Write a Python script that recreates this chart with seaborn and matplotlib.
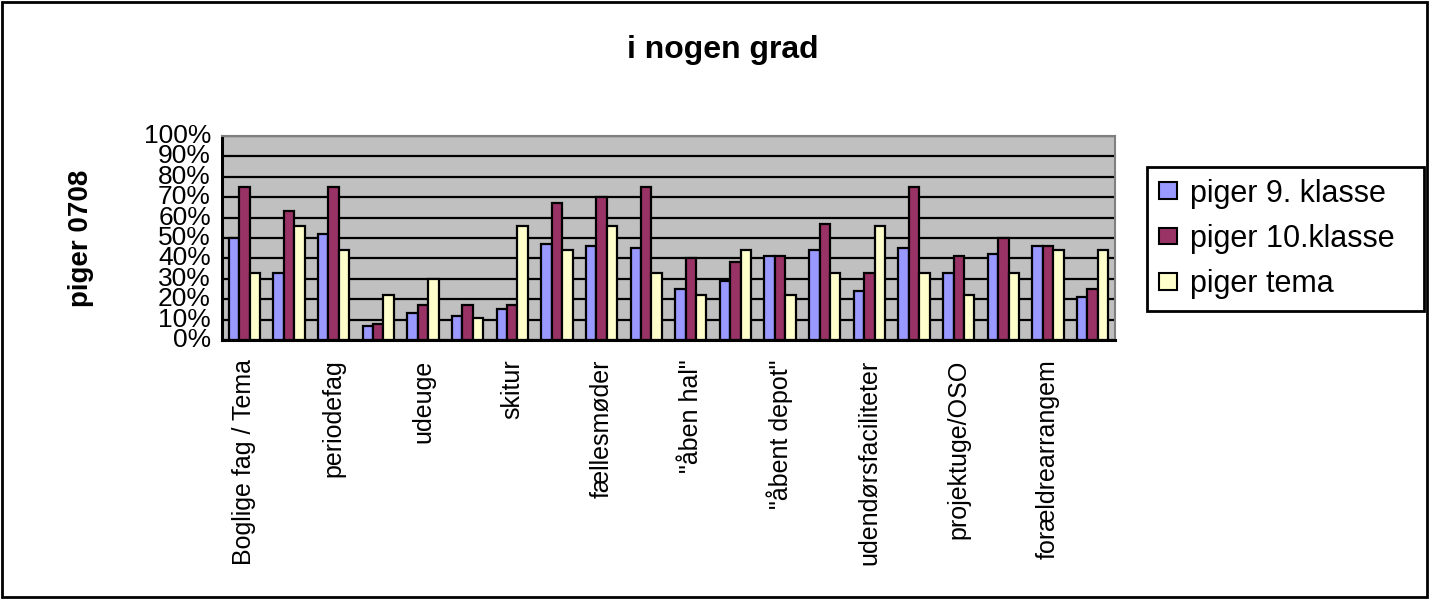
import matplotlib
matplotlib.use("Agg")
import matplotlib.pyplot as plt
import matplotlib.ticker as mticker
from matplotlib.patches import Rectangle
import seaborn as sns
import pandas as pd
import numpy as np

# ---------------- data ----------------
categories = [
    "Boglige fag / Tema", "kat 2", "periodefag", "kat 4", "udeuge", "kat 6",
    "skitur", "kat 8", "fællesmøder", "kat 10", "\"åben hal\"", "kat 12",
    "\"åbent depot\"", "kat 14", "udendørsfaciliteter", "kat 16",
    "projektuge/OSO", "kat 18", "forældrearrangem", "kat 20",
]
tick_labels = [
    "Boglige fag / Tema", "periodefag", "udeuge", "skitur", "fællesmøder",
    "\"åben hal\"", "\"åbent depot\"", "udendørsfaciliteter",
    "projektuge/OSO", "forældrearrangem",
]
series_names = ["piger 9. klasse", "piger 10.klasse", "piger tema"]
piger_9 = [0.50, 0.33, 0.52, 0.07, 0.13, 0.12, 0.15, 0.47, 0.46, 0.45,
           0.25, 0.29, 0.41, 0.44, 0.24, 0.45, 0.33, 0.42, 0.46, 0.21]
piger_10 = [0.75, 0.63, 0.75, 0.08, 0.17, 0.17, 0.17, 0.67, 0.70, 0.75,
            0.40, 0.38, 0.41, 0.57, 0.33, 0.75, 0.41, 0.50, 0.46, 0.25]
piger_tema = [0.33, 0.56, 0.44, 0.22, 0.30, 0.11, 0.56, 0.44, 0.56, 0.33,
              0.22, 0.44, 0.22, 0.33, 0.56, 0.33, 0.22, 0.33, 0.44, 0.44]
title = "i nogen grad"
ylabel = "piger 0708"

colors = ["#9999FF", "#993366", "#FFFFCC"]

df = pd.DataFrame({
    "kategori": categories * 3,
    "serie": sum([[s] * len(categories) for s in series_names], []),
    "andel": piger_9 + piger_10 + piger_tema,
})

# ---------------- figure ----------------
sns.set_style("white")
plt.rcParams["font.family"] = ["Liberation Sans", "DejaVu Sans"]
plt.rcParams["text.color"] = "black"
plt.rcParams["axes.labelcolor"] = "black"
plt.rcParams["xtick.color"] = "black"
plt.rcParams["ytick.color"] = "black"

W, H = 1429, 599
fig = plt.figure(figsize=(W / 100, H / 100), dpi=100)
fig.patch.set_facecolor("white")

left, right, top, bottom = 222, 1115, 136, 340
ax = fig.add_axes([left / W, 1 - bottom / H, (right - left) / W, (bottom - top) / H])
ax.set_facecolor("#C0C0C0")

sns.barplot(data=df, x="kategori", y="andel", hue="serie", order=categories,
            hue_order=series_names, palette=colors, width=0.7,
            edgecolor="black", linewidth=1.6, saturation=1, ax=ax)

ax.set_ylim(0, 1)
ax.set_xlim(-0.5, len(categories) - 0.5)
ax.yaxis.set_major_locator(mticker.MultipleLocator(0.1))
ax.yaxis.set_major_formatter(mticker.PercentFormatter(1.0, decimals=0))
ax.grid(axis="y", color="black", linewidth=1.6)
ax.set_axisbelow(True)

# x ticks: labels on every other category, tick marks at boundaries
ax.set_xticks(np.arange(0, len(categories), 2))
ax.set_xticklabels(tick_labels, rotation=90, fontsize=18, color="black")
ax.tick_params(axis="x", which="major", length=0, pad=14)
ax.set_xticks(np.arange(-0.5, len(categories), 1), minor=True)
ax.tick_params(axis="x", which="minor", length=7, width=2, color="black",
               direction="out")
ax.tick_params(axis="y", which="major", length=12, width=2, color="black",
               labelcolor="black", direction="inout", labelsize=19, pad=2)
for lbl in ax.get_yticklabels():
    lbl.set_verticalalignment("center")

ax.set_xlabel("")
ax.set_ylabel(ylabel, fontsize=20, fontweight="bold", labelpad=36,
              color="black")

for s in ["left", "bottom"]:
    ax.spines[s].set_color("black")
    ax.spines[s].set_linewidth(2.2)
for s in ["top", "right"]:
    ax.spines[s].set_color("#808080")
    ax.spines[s].set_linewidth(1.5)
    ax.spines[s].set_visible(True)

fig.text(723 / W, 1 - 50 / H, title, ha="center", va="center",
         fontsize=23, fontweight="bold", color="black")

# legend
ax.get_legend().remove()
handles = [Rectangle((0, 0), 1, 1, facecolor=c, edgecolor="black", linewidth=1.5)
           for c in colors]
leg = fig.legend(handles, series_names, loc="upper left", mode="expand",
                 bbox_to_anchor=(1147 / W, 1 - 167 / H - 0.01, 277 / W, 0.01),
                 fontsize=22, frameon=True, fancybox=False,
                 handlelength=0.6, handleheight=0.47, handletextpad=0.42,
                 labelspacing=0.5, borderpad=0.38, borderaxespad=0)
frame = leg.get_frame()
frame.set_linewidth(2)
frame.set_edgecolor("black")
frame.set_alpha(1)
for t in leg.get_texts():
    t.set_color("black")

# figure border
fig.patches.append(Rectangle((2 / W, 2 / H), 1 - 4 / W, 1 - 4 / H,
                             transform=fig.transFigure, fill=False,
                             edgecolor="black", linewidth=2))

fig.savefig("out.png", dpi=100)
